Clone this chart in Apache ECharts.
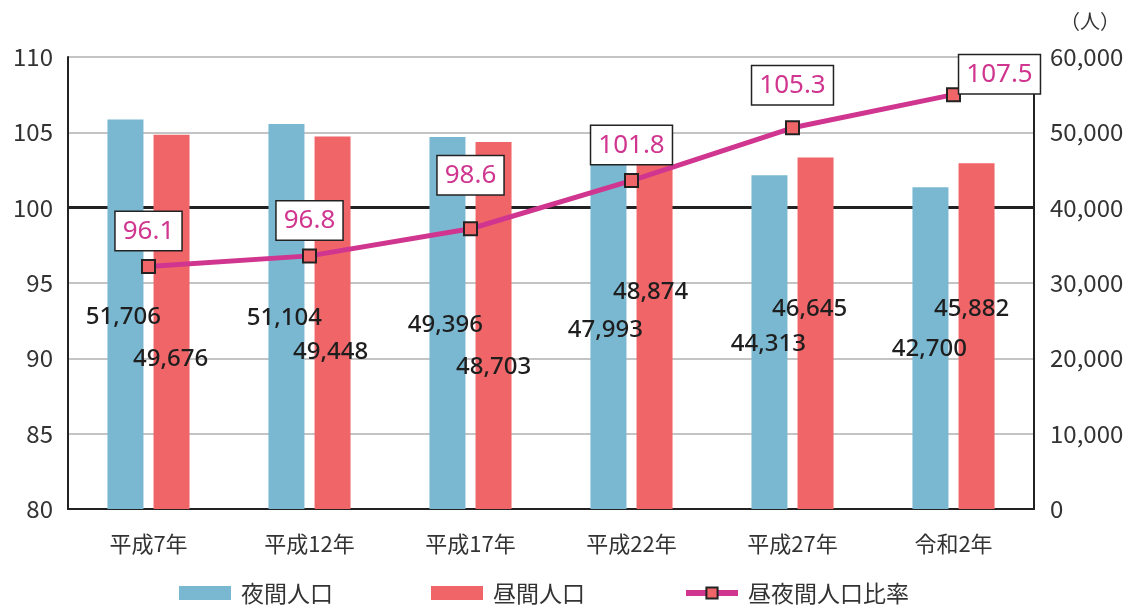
<!DOCTYPE html>
<html>
<head>
<meta charset="utf-8">
<script src="https://cdn.jsdelivr.net/npm/echarts@6/dist/echarts.min.js"></script>
<style>
html,body{margin:0;padding:0;background:#fff;}
#chart{width:1144px;height:606px;}
</style>
</head>
<body>
<div id="chart"></div>
<script>
// ---- data ----
const categories = ['平成7年', '平成12年', '平成17年', '平成22年', '平成27年', '令和2年'];
const nightPop = [51706, 51104, 49396, 47993, 44313, 42700];   // 夜間人口
const dayPop = [49676, 49448, 48703, 48874, 46645, 45882];     // 昼間人口
const ratio = [96.1, 96.8, 98.6, 101.8, 105.3, 107.5];         // 昼夜間人口比率
const leftTicks = { min: 80, max: 110, interval: 5 };
const rightTicks = { min: 0, max: 60000, interval: 10000 };

// ---- label placement (style only) ----
const nightLabelOffsets = [[-2, 3], [-2, 2], [-2, 2], [-3, 2], [-1, 2], [-1, 1]];
const dayLabelOffsets = [[-1, 37], [-2, 29], [0, 42], [-4, -33], [-6, -24], [-5, -27]];
const ratioLabelOffsets = [[0, 0], [0, 0], [0, -18], [0, 0], [0, -7], [46, 15]];

const FONT = '"Noto Sans CJK JP", "Noto Sans", sans-serif';
const fmt = v => v.toLocaleString('en-US');

const chart = echarts.init(document.getElementById('chart'));
chart.setOption({
  animation: false,
  textStyle: { fontFamily: FONT },
  grid: { left: 68, right: 110, top: 57, bottom: 97, containLabel: false },
  legend: {
    left: 179, top: 580, padding: 0,
    itemWidth: 52, itemHeight: 14, itemGap: 98,
    textStyle: { fontSize: 23, lineHeight: 26, color: '#333', fontFamily: FONT, padding: [0, 0, 0, 5] },
    data: [
      { name: '夜間人口', icon: 'rect' },
      { name: '昼間人口', icon: 'rect' },
      { name: '昼夜間人口比率', lineStyle: { width: 6, color: '#d0368f' } }
    ]
  },
  xAxis: {
    type: 'category',
    data: categories,
    axisTick: { show: false },
    axisLine: { lineStyle: { color: '#222', width: 2 } },
    axisLabel: { fontSize: 22, color: '#333', margin: 24, fontFamily: FONT }
  },
  yAxis: [
    {
      type: 'value', position: 'left',
      min: leftTicks.min, max: leftTicks.max, interval: leftTicks.interval,
      axisLine: { show: true, lineStyle: { color: '#222', width: 2 } },
      axisTick: { show: false },
      axisLabel: { fontSize: 24, color: '#333', margin: 15, fontFamily: FONT },
      splitLine: { lineStyle: { color: '#c4c4c4', width: 2 } }
    },
    {
      type: 'value', position: 'right',
      min: rightTicks.min, max: rightTicks.max, interval: rightTicks.interval,
      name: '（人）',
      nameLocation: 'end',
      nameGap: 26,
      nameTextStyle: { fontSize: 20, color: '#333', align: 'left', padding: [0, 0, 0, 26], fontFamily: FONT },
      axisLine: { show: true, lineStyle: { color: '#222', width: 2 } },
      axisTick: { show: false },
      axisLabel: { fontSize: 24, color: '#333', margin: 16, fontFamily: FONT, formatter: v => fmt(v) },
      splitLine: { show: false }
    }
  ],
  series: [
    {
      name: '夜間人口', type: 'bar', yAxisIndex: 1,
      barWidth: 36, barGap: '28%',
      itemStyle: { color: '#7ab8d2' },
      data: nightPop.map((v, i) => ({
        value: v,
        label: { offset: nightLabelOffsets[i] }
      })),
      label: {
        show: true, position: 'inside', fontSize: 24, color: '#1e1e1e',
        fontFamily: '"Noto Sans", sans-serif', fontWeight: 500,
        formatter: p => fmt(p.value)
      },
      z: 2
    },
    {
      name: '昼間人口', type: 'bar', yAxisIndex: 1,
      barWidth: 36,
      itemStyle: { color: '#f06568' },
      data: dayPop.map((v, i) => ({
        value: v,
        label: { offset: dayLabelOffsets[i] }
      })),
      label: {
        show: true, position: 'inside', fontSize: 24, color: '#1e1e1e',
        fontFamily: '"Noto Sans", sans-serif', fontWeight: 500,
        formatter: p => fmt(p.value)
      },
      z: 2
    },
    {
      name: '昼夜間人口比率', type: 'line', yAxisIndex: 0,
      symbol: 'rect', symbolSize: 13,
      lineStyle: { color: '#d0368f', width: 5 },
      itemStyle: { color: '#f06568', borderColor: '#222', borderWidth: 2 },
      data: ratio.map((v, i) => ({
        value: v,
        label: { offset: ratioLabelOffsets[i] }
      })),
      label: {
        show: true, position: 'top', distance: 9,
        fontSize: 26, color: '#d0368f', fontFamily: '"Noto Sans", sans-serif',
        backgroundColor: '#fff', borderColor: '#222', borderWidth: 1.5,
        padding: [6, 7, 5, 7], lineHeight: 27
      },
      markLine: {
        silent: true, symbol: 'none', label: { show: false },
        lineStyle: { color: '#222', width: 3, type: 'solid' },
        data: [{ yAxis: 100 }],
        z: 1
      },
      z: 5
    }
  ]
});
</script>
</body>
</html>
